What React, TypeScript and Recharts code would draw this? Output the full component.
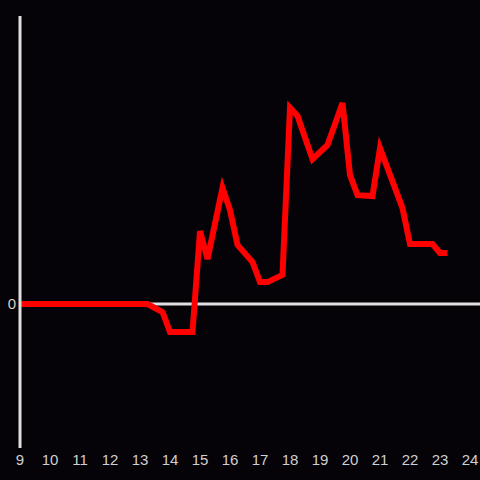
import React from "react";
import { LineChart, Line, XAxis, YAxis, ReferenceLine } from "recharts";

const hours = [9, 13.25, 13.75, 14, 14.75, 15, 15.25, 15.75, 16, 16.25, 16.75, 17, 17.25, 17.75, 18, 18.25, 18.75, 19.25, 19.75, 20, 20.25, 20.75, 21, 21.75, 22, 22.75, 23, 23.25];
const values = [0, 0, -2.8, -9.7, -9.7, 25.3, 15.6, 40.3, 32.6, 20.5, 14.6, 7.6, 7.6, 10.1, 68.1, 65.3, 50.3, 55.2, 69.8, 44.8, 37.8, 37.5, 54.2, 33.3, 20.8, 20.8, 17.7, 17.7];
const xTicks = [9, 10, 11, 12, 13, 14, 15, 16, 17, 18, 19, 20, 21, 22, 23, 24];
const yTicks = [0];

const data = hours.map((h, i) => ({ h, v: values[i] }));

export default function App() {
  return (
    <div style={{ position: "absolute", left: 0, top: 0, width: 480, height: 480, background: "#050308" }}>
      <LineChart width={480} height={480} data={data} margin={{ top: 16, right: 0, bottom: 0, left: 0 }}>
        <XAxis
          dataKey="h"
          type="number"
          domain={[9, 24.3333]}
          ticks={xTicks}
          height={32}
          axisLine={false}
          tickLine={false}
          tickSize={0}
          tickMargin={6}
          allowDataOverflow
          tick={{ fill: "#d0d0d0", fontSize: 15, fontFamily: "Liberation Sans, Arial, sans-serif" }}
        />
        <YAxis
          type="number"
          domain={[-50, 100]}
          ticks={yTicks}
          width={20}
          axisLine={{ stroke: "#e0e0e0", strokeWidth: 3 }}
          tickLine={false}
          tickSize={0}
          tickMargin={4}
          tick={{ fill: "#d0d0d0", fontSize: 15, fontFamily: "Liberation Sans, Arial, sans-serif" }}
        />
        <ReferenceLine y={0} stroke="#e0e0e0" strokeWidth={3} />
        <Line
          dataKey="v"
          stroke="#ff0000"
          strokeWidth={6}
          dot={false}
          isAnimationActive={false}
          type="linear"
        />
      </LineChart>
    </div>
  );
}
